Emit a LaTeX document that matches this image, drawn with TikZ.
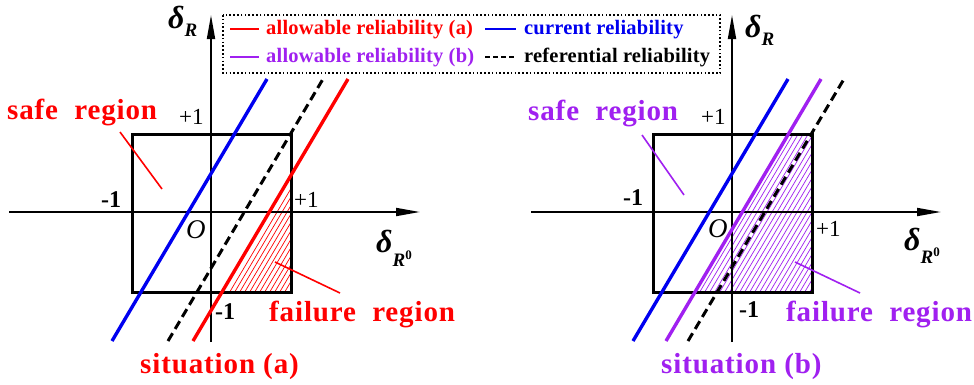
\documentclass[tikz,border=0pt]{standalone}
\usepackage{fontspec}
\setmainfont{Liberation Serif}
\newfontfamily\lblfont{Liberation Serif}[LetterSpace=3]
\newfontfamily\legfont{Liberation Serif}[LetterSpace=1]
\usetikzlibrary{arrows.meta}
\definecolor{myred}{RGB}{255,0,0}
\definecolor{myblue}{RGB}{0,0,240}
\definecolor{mypurple}{RGB}{160,32,240}
\tikzset{
 axisline/.style={line width=1.8pt,-{Triangle[length=24pt,width=8pt]}},
 boxsq/.style={line width=3pt},
 relline/.style={line width=3.4pt},
 refline/.style={line width=3pt,dash pattern=on 9pt off 5pt},
 pointer/.style={line width=1.6pt},
 hatchline/.style={line width=0.7pt},
 biglbl/.style={inner sep=0pt,anchor=base west,font=\lblfont\fontsize{29}{29}\selectfont\bfseries},
 leglbl/.style={inner sep=0pt,anchor=base west,font=\legfont\fontsize{20.5}{20.5}\selectfont\bfseries},
 ticklbl/.style={inner sep=0pt,anchor=base west,font=\fontsize{23}{23}\selectfont},
 ticklblb/.style={inner sep=0pt,anchor=base west,font=\fontsize{24}{24}\selectfont\bfseries},
 originlbl/.style={inner sep=0pt,anchor=base west,font=\fontsize{27}{27}\selectfont\itshape},
 axlbl/.style={inner sep=0pt,anchor=base west,font=\fontsize{32}{32}\selectfont\bfseries\itshape},
}
\newcommand{\subR}[1]{\raisebox{-#1}{\fontsize{19}{19}\selectfont R}}
\newcommand{\subRz}[1]{\raisebox{-#1}{\fontsize{19}{19}\selectfont R\raisebox{7pt}{\fontsize{13}{13}\selectfont\upshape 0}}}
\begin{document}
\begin{tikzpicture}[x=1pt,y=-1pt]
\useasboundingbox (0,0) rectangle (974,384);
\fill[white] (0,0) rectangle (974,384);
% ---------------- left plot ----------------
\begin{scope}
\clip (228,292) -- (291,292) -- (291,185) -- cycle;
\foreach \i in {0,...,40}{
  \draw[hatchline,myred] (150+5*\i,300) -- ++(100.6,-170);
}
\end{scope}
\draw[boxsq] (132,134) rectangle (291,292);
\coordinate (LxS) at (9,212);
\coordinate (LxE) at (420,212);
\coordinate (LyS) at (211,342);
\coordinate (LyE) at (211,15);
\draw[axisline] (LxS) -- (LxE);
\draw[axisline] (LyS) -- (LyE);
\coordinate (LbB) at (112,341); \coordinate (LbT) at (267,79);
\coordinate (LdB) at (168,341); \coordinate (LdT) at (323,79);
\coordinate (LrB) at (193,341); \coordinate (LrT) at (348,79);
\draw[relline,myblue] (LbB) -- (LbT);
\draw[refline] (LdB) -- (LdT);
\draw[relline,myred] (LrB) -- (LrT);
\coordinate (LsA) at (120,132); \coordinate (LsB) at (162,189);
\coordinate (LfA) at (275,262); \coordinate (LfB) at (340,293);
\draw[pointer,myred] (LsA) -- (LsB);
\draw[pointer,myred] (LfA) -- (LfB);
\node[biglbl,myred] (Lsafe) at (7,119) {safe\ \ region};
\node[biglbl,myred] (Lfail) at (269,321) {failure\ \ region};
\node[biglbl,myred] (Lsit) at (140,373) {situation (a)};
\node[axlbl] (LdR) at (168,28) {δ\subR{8pt}};
\node[axlbl] (LdR0) at (376,252) {δ\subRz{14pt}};
\node[ticklbl] (Lp1t) at (179,124) {+1};
\node[ticklbl] (Lp1r) at (294,207) {+1};
\node[ticklblb] (Lm1l) at (101,207) {-1};
\node[ticklblb] (Lm1b) at (215,319) {-1};
\node[originlbl] (LO) at (186,238) {O};
% ---------------- right plot ----------------
\begin{scope}
\clip (699,292) -- (812,292) -- (812,134) -- (792.5,134) -- cycle;
\foreach \i in {0,...,50}{
  \draw[hatchline,mypurple] (640+5*\i,300) -- ++(100.6,-170);
}
\end{scope}
\draw[boxsq] (653,134) rectangle (812,292);
\coordinate (RxS) at (531,212);
\coordinate (RxE) at (941,212);
\coordinate (RyS) at (732,342);
\coordinate (RyE) at (732,15);
\draw[axisline] (RxS) -- (RxE);
\draw[axisline] (RyS) -- (RyE);
\coordinate (RbB) at (633,341); \coordinate (RbT) at (788,79);
\coordinate (RpB) at (666,341); \coordinate (RpT) at (821,79);
\coordinate (RdB) at (688,341); \coordinate (RdT) at (844,79);
\draw[relline,myblue] (RbB) -- (RbT);
\draw[relline,mypurple] (RpB) -- (RpT);
\draw[refline] (RdB) -- (RdT);
\coordinate (RsA) at (642,135); \coordinate (RsB) at (684,195);
\coordinate (RfA) at (795,262); \coordinate (RfB) at (860,293);
\draw[pointer,mypurple] (RsA) -- (RsB);
\draw[pointer,mypurple] (RfA) -- (RfB);
\node[biglbl,mypurple] (Rsafe) at (528,120) {safe\ \ region};
\node[biglbl,mypurple] (Rfail) at (786,321) {failure\ \ region};
\node[biglbl,mypurple] (Rsit) at (661,373) {situation (b)};
\node[axlbl] (RdR) at (745,37) {δ\subR{8pt}};
\node[axlbl] (RdR0) at (904,250) {δ\subRz{13pt}};
\node[ticklbl] (Rp1t) at (701,124) {+1};
\node[ticklbl] (Rp1r) at (816,236) {+1};
\node[ticklblb] (Rm1l) at (623,205) {-1};
\node[ticklblb] (Rm1b) at (739,317) {-1};
\node[originlbl] (RO) at (708,237) {O};
% ---------------- legend ----------------
\draw[line width=2pt,dash pattern=on 1.6pt off 2.2pt] (223,15) rectangle (720,73);
\coordinate (g1a) at (230,29); \coordinate (g1b) at (259,29);
\coordinate (g2a) at (485,29); \coordinate (g2b) at (516,29);
\coordinate (g3a) at (230,57); \coordinate (g3b) at (259,57);
\coordinate (g4a) at (485,57); \coordinate (g4b) at (516,57);
\draw[line width=2.5pt,myred] (g1a) -- (g1b);
\draw[line width=2.5pt,myblue] (g2a) -- (g2b);
\draw[line width=2.5pt,mypurple] (g3a) -- (g3b);
\draw[line width=2.5pt,dash pattern=on 5pt off 3pt] (g4a) -- (g4b);
\node[leglbl,myred] (t1) at (266,34) {allowable reliability (a)};
\node[leglbl,myblue] (t2) at (524,34) {current reliability};
\node[leglbl,mypurple] (t3) at (266,62) {allowable reliability (b)};
\node[leglbl] (t4) at (524,62) {referential reliability};
\end{tikzpicture}
\end{document}
